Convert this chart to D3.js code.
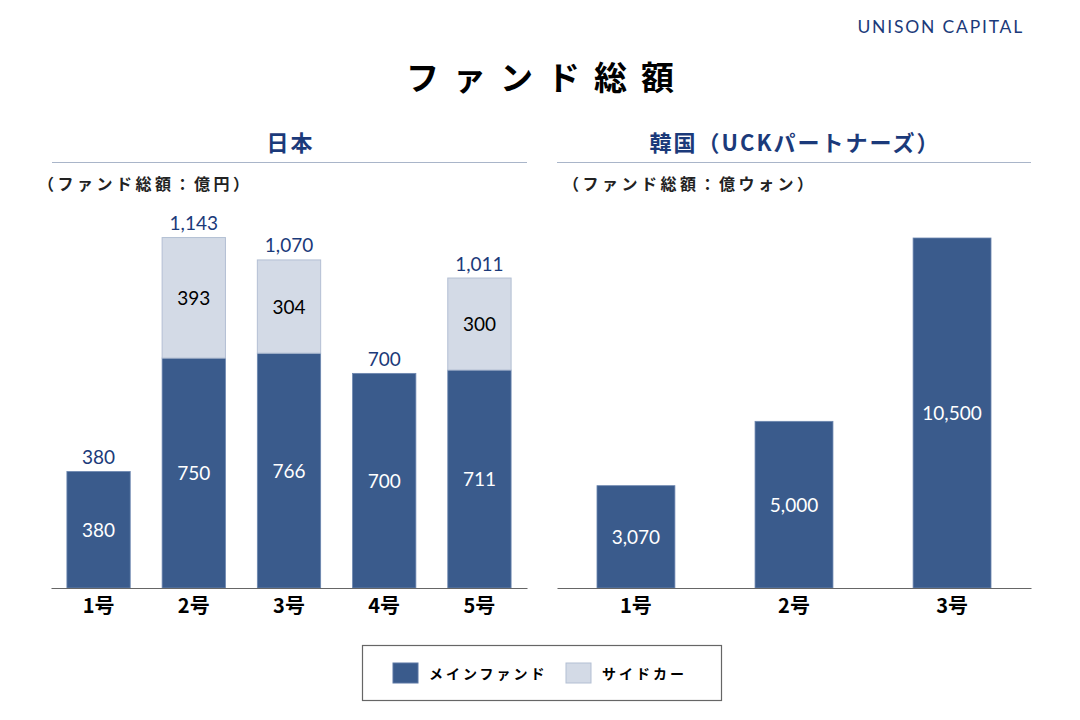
<!DOCTYPE html>
<html><head><meta charset="utf-8">
<script src="https://cdn.jsdelivr.net/npm/d3@7"></script>
<style>
body{margin:0;background:#fff;}
svg{display:block;}
</style></head>
<body>
<script>
const jpCategories = ["1号","2号","3号","4号","5号"];
const jpMain = [380, 750, 766, 700, 711];
const jpSidecar = [0, 393, 304, 0, 300];
const jpTotal = [380, 1143, 1070, 700, 1011];
const krCategories = ["1号","2号","3号"];
const krMain = [3070, 5000, 10500];
const legendLabels = ["メインファンド","サイドカー"];

const W = 1080, H = 720;
const MAIN = "#3a5b8c", SIDE = "#d3dae6", NAVY = "#1b3a7a";
const JP = "'Noto Sans CJK JP', sans-serif";
const NUM = "Lato, 'Noto Sans', sans-serif";
const fmt = d3.format(",");

const svg = d3.select("body").append("svg").attr("width", W).attr("height", H);

svg.append("text").attr("x", 1024).attr("y", 33).attr("text-anchor","end")
  .attr("font-family", NUM).attr("font-size", 17.5).attr("letter-spacing", 1.8)
  .attr("fill", NAVY).text("UNISON CAPITAL");

svg.append("text").attr("x", 547).attr("y", 90).attr("text-anchor","middle")
  .attr("font-family", JP).attr("font-weight", 700).attr("font-size", 33)
  .attr("letter-spacing", 14).attr("fill", "#000").text("ファンド総額");

function header(x1, x2, title, sub, subX){
  svg.append("text").attr("x", (x1+x2)/2 + 1).attr("y", 151).attr("text-anchor","middle")
    .attr("font-family", JP).attr("font-weight", 700).attr("font-size", 22)
    .attr("letter-spacing", 2).attr("fill", NAVY).text(title);
  svg.append("line").attr("x1", x1).attr("x2", x2).attr("y1", 162.5).attr("y2", 162.5)
    .attr("stroke", "#a9b5c9").attr("stroke-width", 1.2);
  svg.append("text").attr("x", subX).attr("y", 190)
    .attr("font-family", JP).attr("font-weight", 700).attr("font-size", 16)
    .attr("letter-spacing", 3.5).attr("fill", "#222").text(sub);
}
header(52, 527, "日本", "（ファンド総額：億円）", 38);
header(557, 1031, "韓国（UCKパートナーズ）", "（ファンド総額：億ウォン）", 563);

// Japan chart
const BASE = 588;
const xJ = d3.scaleBand().domain(jpCategories).range([51, 527]).paddingInner(0.335).paddingOuter(0.167);
const yJ = d3.scaleLinear().domain([0, 1200]).range([BASE, BASE - 1200*0.3066]);
const gJ = svg.append("g");
jpCategories.forEach((c,i)=>{
  const x = xJ(c), w = xJ.bandwidth();
  gJ.append("rect").attr("x", x).attr("width", w)
    .attr("y", yJ(jpMain[i])).attr("height", BASE - yJ(jpMain[i]))
    .attr("fill", MAIN).attr("stroke", "#6d87b0").attr("stroke-width", 0.8);
  gJ.append("text").attr("x", x + w/2).attr("y", (yJ(jpMain[i]) + BASE)/2 + 7)
    .attr("text-anchor","middle").attr("font-family", NUM).attr("font-size", 19)
    .attr("fill", "#fff").text(fmt(jpMain[i]));
  if (jpSidecar[i] > 0){
    const top = yJ(jpMain[i] + jpSidecar[i]);
    gJ.append("rect").attr("x", x).attr("width", w)
      .attr("y", top).attr("height", yJ(jpMain[i]) - top)
      .attr("fill", SIDE).attr("stroke", "#b3bfd3").attr("stroke-width", 1);
    gJ.append("text").attr("x", x + w/2).attr("y", (top + yJ(jpMain[i]))/2 + 7)
      .attr("text-anchor","middle").attr("font-family", NUM).attr("font-size", 19)
      .attr("fill", "#000").text(fmt(jpSidecar[i]));
  }
  gJ.append("text").attr("x", x + w/2).attr("y", yJ(jpTotal[i]) - 7.5)
    .attr("text-anchor","middle").attr("font-family", NUM).attr("font-size", 19)
    .attr("fill", NAVY).text(fmt(jpTotal[i]));
});
const axJ = svg.append("g").attr("transform", `translate(0,${BASE})`)
  .call(d3.axisBottom(xJ).tickSize(0).tickPadding(11));
axJ.select(".domain").attr("stroke", "#666").attr("stroke-width", 1.2);
axJ.selectAll("text").attr("font-family", JP).attr("font-weight", 700)
  .attr("font-size", 20).attr("fill", "#000");

// Korea chart
const xK = d3.scaleBand().domain(krCategories).range([557, 1031]).paddingInner(0.507).paddingOuter(0.253);
const yK = d3.scaleLinear().domain([0, 10500]).range([BASE, 238]);
const gK = svg.append("g");
krCategories.forEach((c,i)=>{
  const x = xK(c), w = xK.bandwidth();
  gK.append("rect").attr("x", x).attr("width", w)
    .attr("y", yK(krMain[i])).attr("height", BASE - yK(krMain[i]))
    .attr("fill", MAIN).attr("stroke", "#6d87b0").attr("stroke-width", 0.8);
  gK.append("text").attr("x", x + w/2).attr("y", (yK(krMain[i]) + BASE)/2 + 7)
    .attr("text-anchor","middle").attr("font-family", NUM).attr("font-size", 19)
    .attr("fill", "#fff").text(fmt(krMain[i]));
});
const axK = svg.append("g").attr("transform", `translate(0,${BASE})`)
  .call(d3.axisBottom(xK).tickSize(0).tickPadding(11));
axK.select(".domain").attr("stroke", "#666").attr("stroke-width", 1.2);
axK.selectAll("text").attr("font-family", JP).attr("font-weight", 700)
  .attr("font-size", 20).attr("fill", "#000");

// Legend
const lg = svg.append("g");
lg.append("rect").attr("x", 362.5).attr("y", 645.5).attr("width", 359).attr("height", 55)
  .attr("fill", "#fff").attr("stroke", "#666").attr("stroke-width", 1.2);
const legX = [393, 566];
const legFill = [MAIN, SIDE];
const legStroke = ["#5b77a3", "#b3bfd3"];
legendLabels.forEach((t,i)=>{
  lg.append("rect").attr("x", legX[i]).attr("y", 663).attr("width", 25).attr("height", 20)
    .attr("fill", legFill[i]).attr("stroke", legStroke[i]).attr("stroke-width", 1);
  lg.append("text").attr("x", legX[i] + 36).attr("y", 679)
    .attr("font-family", JP).attr("font-weight", 700).attr("font-size", 14)
    .attr("letter-spacing", 3).attr("fill", "#000").text(t);
});
</script>
</body></html>
